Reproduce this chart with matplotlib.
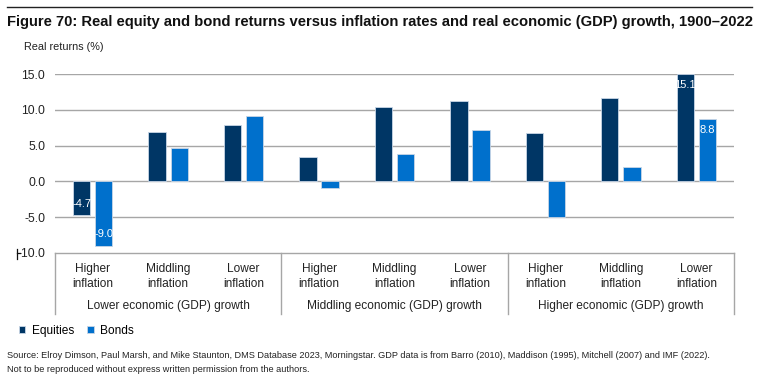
import matplotlib
matplotlib.use('Agg')
import matplotlib.pyplot as plt
import numpy as np

plt.rcParams['font.family'] = ['Liberation Sans', 'DejaVu Sans']

# data
inflation_labels = ['Higher\ninflation', 'Middling\ninflation', 'Lower\ninflation'] * 3
growth_labels = ['Lower economic (GDP) growth', 'Middling economic (GDP) growth',
                 'Higher economic (GDP) growth']
equities = [-4.7, 6.9, 7.9, 3.4, 10.4, 11.2, 6.8, 11.7, 15.1]
bonds = [-9.0, 4.7, 9.2, -0.9, 3.8, 7.2, -5.0, 2.0, 8.8]
labelled_equities = {0: '-4.7', 8: '15.1'}
labelled_bonds = {0: '-9.0', 8: '8.8'}
yticks = [-10, -5, 0, 5, 10, 15]

EQ_COLOR = '#003665'
BD_COLOR = '#0070CC'
GRID = '#A6A6A6'
TXT = '#222222'

W, H = 761, 384
fig = plt.figure(figsize=(W / 100, H / 100), dpi=100)

left, right = 55 / W, 734 / W
bottom, top = 1 - 252.7 / H, 1 - 74.3 / H
ax = fig.add_axes([left, bottom, right - left, top - bottom])

x = np.arange(len(equities))
bw = 0.23
off = 0.147
b1 = ax.bar(x - off, equities, bw, color=EQ_COLOR, edgecolor='#c9d6e6', linewidth=0.6,
            label='Equities', zorder=3, clip_on=False)
b2 = ax.bar(x + off, bonds, bw, color=BD_COLOR, edgecolor='#c9d6e6', linewidth=0.6,
            label='Bonds', zorder=3, clip_on=False)

for series, labels, shift in ((equities, labelled_equities, -off), (bonds, labelled_bonds, off)):
    for i, txt in labels.items():
        v = series[i]
        ax.annotate(txt, (x[i] + shift, v), xytext=(0, -8 if v > 0 else 8),
                    textcoords='offset points', ha='center', va='center', color='white',
                    fontsize=8, zorder=4, annotation_clip=False)

ax.set_xlim(-0.5, len(equities) - 0.5)
ax.set_ylim(-10, 15)
ax.set_yticks(yticks)
ax.set_yticklabels([f'{t:.1f}' for t in yticks], fontsize=8.7, color=TXT)
ax.tick_params(axis='y', length=0, pad=7)
ax.set_xticks([])
for s in ax.spines.values():
    s.set_visible(False)
for t in yticks[1:]:
    ax.axhline(t, color=GRID, linewidth=1, zorder=1)

# category box below the plot
box_bottom = -(314 - 252.7) / (252.7 - 74.3)
trans = ax.transAxes
ax.plot([0, 1], [0, 0], transform=trans, color=GRID, linewidth=1, clip_on=False)
for k in range(4):
    xf = k / 3
    ax.plot([xf, xf], [0, box_bottom], transform=trans, color=GRID, linewidth=1, clip_on=False)

data_x = ax.get_xaxis_transform()
for i, lab in enumerate(inflation_labels):
    ax.text(x[i], -0.058, lab, transform=data_x, ha='center', va='top', fontsize=8.6,
            color=TXT, linespacing=1.3)
for g, lab in enumerate(growth_labels):
    ax.text((g + 0.5) / 3, -0.3, lab, transform=trans, ha='center', va='center', fontsize=8.6,
            color=TXT)

# small stray mark left of the -10.0 label
fig.add_artist(plt.Line2D([17 / W, 17 / W], [1 - 249 / H, 1 - 259 / H], color='#111111', linewidth=0.9))
fig.add_artist(plt.Line2D([17 / W, 20 / W], [1 - 252.5 / H, 1 - 252.5 / H], color='#111111', linewidth=0.9))

# title and header
fig.add_artist(plt.Line2D([7 / W, 752 / W], [1 - 7 / H, 1 - 7 / H], color='#222222', linewidth=1))
fig.text(7 / W, 1 - 22 / H, 'Figure 70: Real equity and bond returns versus inflation rates and '
         'real economic (GDP) growth, 1900\u20132022', fontsize=10.6, fontweight='bold',
         va='center', ha='left', color='#111111')
fig.text(24 / W, 1 - 47 / H, 'Real returns (%)', fontsize=7.8, va='center', ha='left', color=TXT)

# legend
fig.legend(handles=[b1, b2], labels=['Equities', 'Bonds'], loc='center left',
           bbox_to_anchor=(8 / W, 1 - 331 / H), ncol=2, frameon=False, fontsize=8.6,
           handlelength=0.55, handleheight=0.55, handletextpad=0.55, columnspacing=1.1)

fig.text(7 / W, 1 - 355 / H, 'Source: Elroy Dimson, Paul Marsh, and Mike Staunton, DMS Database 2023, '
         'Morningstar. GDP data is from Barro (2010), Maddison (1995), Mitchell (2007) and IMF (2022).',
         fontsize=6.6, va='center', ha='left', color=TXT)
fig.text(7 / W, 1 - 369 / H, 'Not to be reproduced without express written permission from the authors.',
         fontsize=6.6, va='center', ha='left', color=TXT)

fig.savefig('out.png', dpi=100)
